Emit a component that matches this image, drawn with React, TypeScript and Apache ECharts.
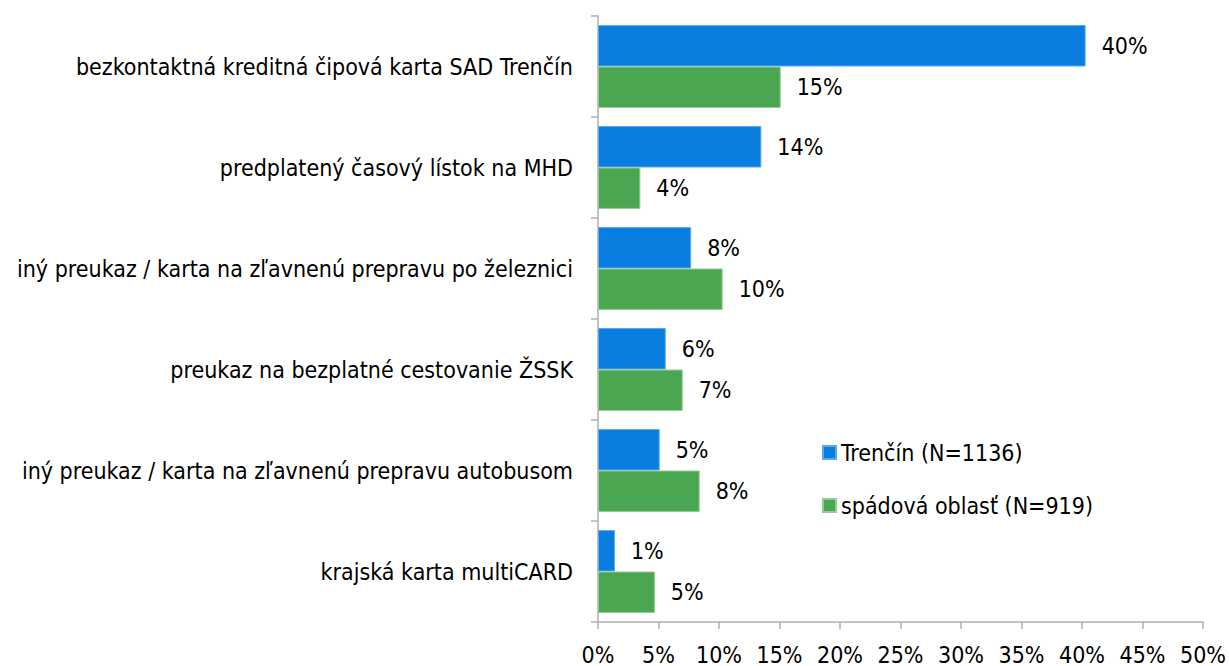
import React, { useEffect, useRef } from "react";
import * as echarts from "echarts";

const categories = [
  "bezkontaktná kreditná čipová karta SAD Trenčín",
  "predplatený časový lístok na MHD",
  "iný preukaz / karta na zľavnenú prepravu po železnici",
  "preukaz na bezplatné cestovanie ŽSSK",
  "iný preukaz / karta na zľavnenú prepravu autobusom",
  "krajská karta multiCARD",
];
const trencin = [40.3, 13.5, 7.7, 5.6, 5.1, 1.4];
const spadova = [15.1, 3.5, 10.3, 7.0, 8.4, 4.7];
const seriesNames = ["Trenčín (N=1136)", "spádová oblasť (N=919)"];

const FONT = '"Liberation Sans Narrow", "DejaVu Sans Condensed", "Arial Narrow", sans-serif';
const FS = 23;

export default function App() {
  const ref = useRef<HTMLDivElement>(null);
  useEffect(() => {
    const chart = echarts.init(ref.current!, null, { renderer: "svg" });
    const labelCfg = {
      show: true,
      position: "right",
      distance: 16,
      color: "#000",
      fontFamily: FONT,
      fontSize: FS,
      formatter: (p: any) => Math.round(p.value) + "%",
    };
    chart.setOption({
      animation: false,
      textStyle: { fontFamily: FONT },
      grid: { left: 598, right: 23, top: 16, bottom: 44, containLabel: false },
      legend: {
        orient: "vertical",
        left: 817,
        top: 436,
        itemWidth: 13,
        itemHeight: 13,
        itemGap: 30,
        icon: "rect",
        textStyle: { fontFamily: FONT, fontSize: FS, color: "#000" },
        data: seriesNames,
      },
      xAxis: {
        type: "value",
        min: 0,
        max: 50,
        interval: 5,
        splitLine: { show: false },
        axisLine: { show: true, lineStyle: { color: "#b0b0b0", width: 1.5 } },
        axisTick: { show: true, length: 7, lineStyle: { color: "#b0b0b0", width: 1.5 } },
        axisLabel: {
          formatter: "{value}%",
          color: "#000",
          fontFamily: FONT,
          fontSize: FS,
          margin: 21,
        },
      },
      yAxis: {
        type: "category",
        inverse: true,
        data: categories,
        axisLine: { show: true, lineStyle: { color: "#b0b0b0", width: 1.5 } },
        axisTick: { show: true, length: 7, lineStyle: { color: "#b0b0b0", width: 1.5 } },
        axisLabel: {
          color: "#000",
          fontFamily: FONT,
          fontSize: FS,
          margin: 25,
        },
      },
      series: [
        {
          name: seriesNames[0],
          type: "bar",
          data: trencin,
          barGap: "0%",
          barCategoryGap: "18%",
          itemStyle: { color: "#0a7de0", borderColor: "#5aa9ec", borderWidth: 1 },
          label: labelCfg,
        },
        {
          name: seriesNames[1],
          type: "bar",
          data: spadova,
          itemStyle: { color: "#4ba651", borderColor: "#8fcb92", borderWidth: 1 },
          label: labelCfg,
        },
      ],
    });
    return () => chart.dispose();
  }, []);
  return <div ref={ref} style={{ width: 1229, height: 666, position: "absolute", left: 0, top: 0 }} />;
}
